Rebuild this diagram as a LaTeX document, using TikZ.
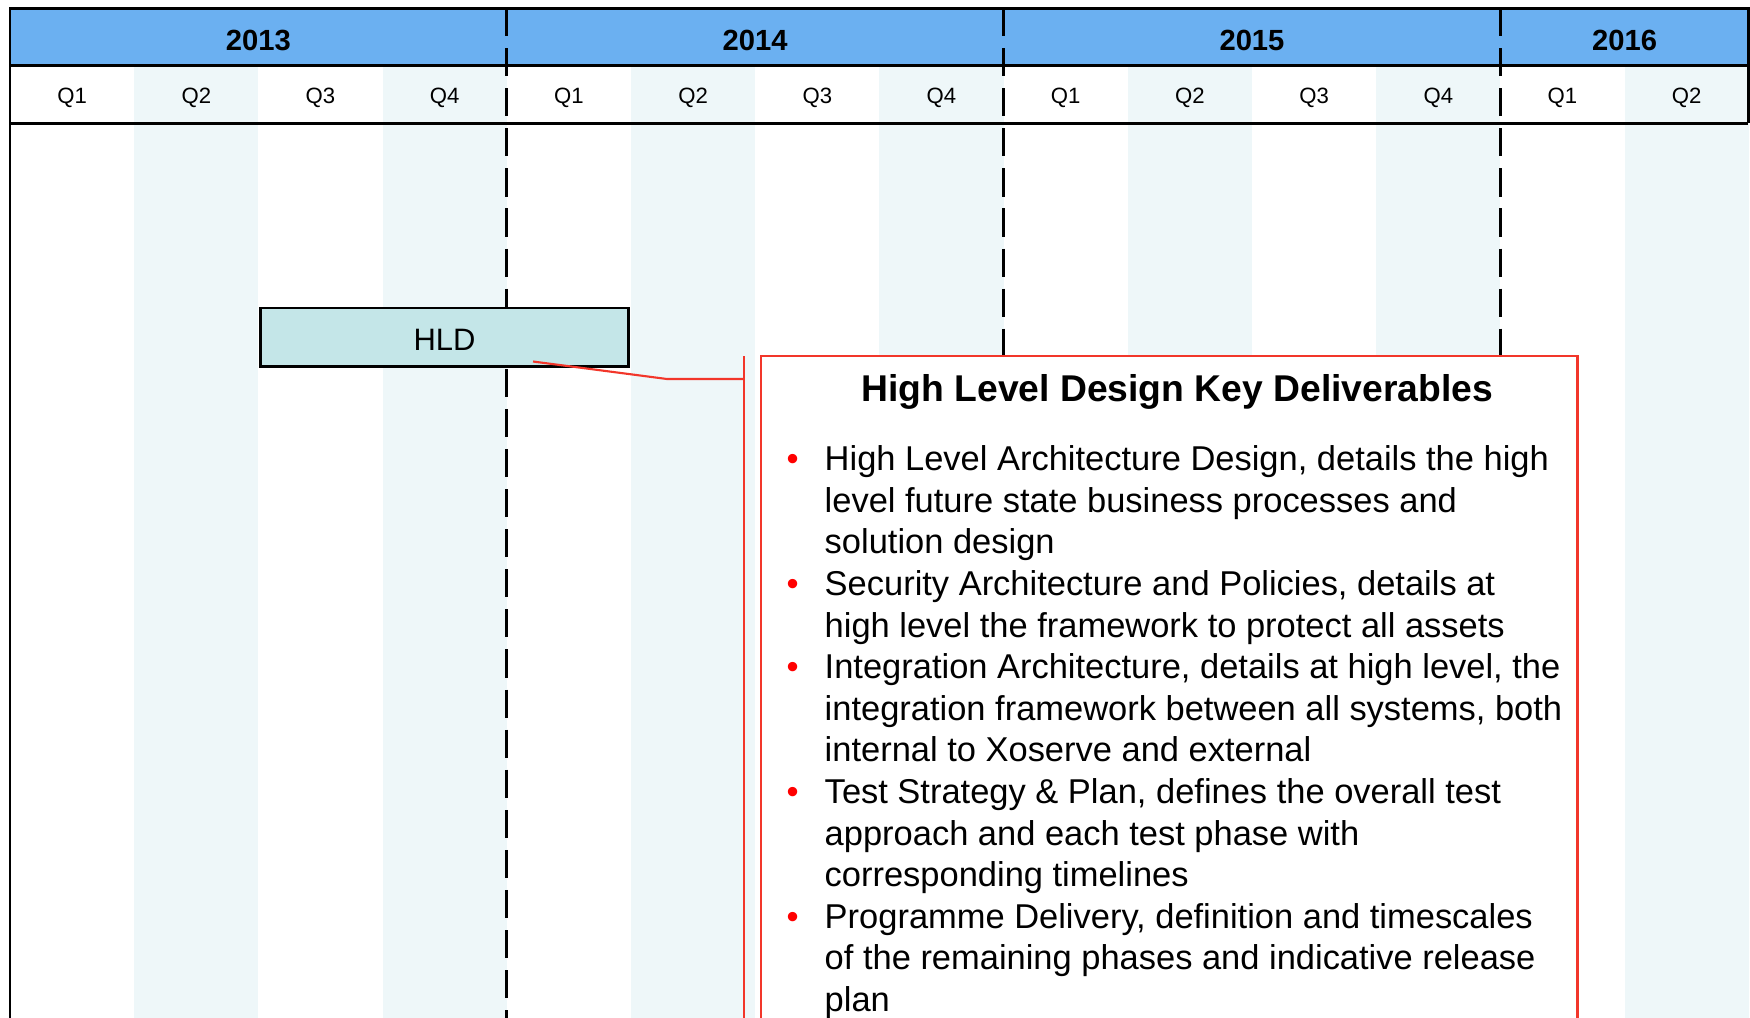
\documentclass[tikz,border=0pt]{standalone}
\usepackage{fontspec}
\setmainfont{Liberation Sans}
\usetikzlibrary{positioning}

\definecolor{yearblue}{HTML}{6BB0F1}
\definecolor{qshade}{HTML}{EEF7F9}
\definecolor{hldteal}{HTML}{C4E6E8}
\definecolor{callred}{HTML}{F2362A}
\definecolor{dotred}{HTML}{FF0000}

\newcommand{\kdbul}{\llap{\textcolor{dotred}{\textbullet}\hspace{7.4pt}}}

\tikzset{
  gridline/.style={line width=0.85pt},
  yeardiv/.style={line width=0.85pt, dash pattern=on 8pt off 3.4pt},
  yearlbl/.style={font=\bfseries\fontsize{8.3}{10}\selectfont},
  qlbl/.style={font=\fontsize{6.3}{7.5}\selectfont},
  phase/.style={draw, line width=0.85pt, fill=hldteal, minimum width=3.67cm,
    minimum height=0.58cm, inner sep=0pt, text height=0.26cm, text depth=0pt,
    font=\fontsize{8.8}{10}\selectfont},
  callout/.style={draw=callred, line width=0.6pt},
  kdbox/.style={draw=callred, line width=0.6pt, fill=white, minimum width=8.16cm,
    minimum height=6.9cm, inner sep=0pt},
  kdhead/.style={font=\bfseries\fontsize{10.6}{12.7}\selectfont, inner sep=0pt},
  kdtext/.style={font=\fontsize{9.8}{11.83}\selectfont, align=left, inner sep=0pt},
}

\begin{document}
\begin{tikzpicture}[x=0.01cm, y=-0.01cm]
  \useasboundingbox (0,0) rectangle (1750,1017);
  \clip (0,0) rectangle (1750,1017);

  \fill[yearblue] (10,8) rectangle (1748,65);
  \foreach \i in {0,...,13}{
    \pgfmathsetmacro\qx{10+124.2*\i}
    \pgfmathtruncatemacro\qn{mod(\i,4)+1}
    \ifodd\i \fill[qshade] (\qx,65) rectangle ++(124.2,960); \fi
    \node[qlbl] (q\i) at (\qx+62.1,97.5) {Q\qn};
  }
  \foreach \yr/\cx in {2013/258.4, 2014/755.2, 2015/1252, 2016/1624.6}
    \node[yearlbl] (y\yr) at (\cx,40) {\yr};

  \draw[gridline] (10,1030) -- (10,8) -- (1748,8) -- (1748,123);
  \draw[gridline] (10,65) -- (1748,65);
  \draw[gridline] (10,123) -- (1748,123);
  \foreach \dx in {506.8, 1003.6, 1500.4}
    \draw[yeardiv] (\dx,8) -- (\dx,1030);

  \node[phase] (hld) at (444.5,337) {HLD};

  \coordinate (brk) at (744,356);
  \coordinate (bend) at (667,379);
  \draw[callout] (brk) -- (brk |- 0,1030);
  \draw[callout] ([xshift=0.885cm,yshift=0.06cm]hld.south) -- (bend) -- (bend -| brk);

  \node[kdbox, anchor=north west] (kd) at (760,355) {};
  \node[kdhead, anchor=base] (kdtitle) at ([xshift=0.08cm,yshift=-0.46cm]kd.north)
    {High Level Design Key Deliverables};
  \node[kdtext, anchor=north west] (kdlist) at ([xshift=0.64cm,yshift=-0.90cm]kd.north west)
    {\kdbul High Level Architecture Design, details the high\\
     level future state business processes and\\
     solution design\\
     \kdbul Security Architecture and Policies, details at\\
     high level the framework to protect all assets\\
     \kdbul Integration Architecture, details at high level, the\\
     integration framework between all systems, both\\
     internal to Xoserve and external\\
     \kdbul Test Strategy \& Plan, defines the overall test\\
     approach and each test phase with\\
     corresponding timelines\\
     \kdbul Programme Delivery, definition and timescales\\
     of the remaining phases and indicative release\\
     plan};
\end{tikzpicture}
\end{document}
